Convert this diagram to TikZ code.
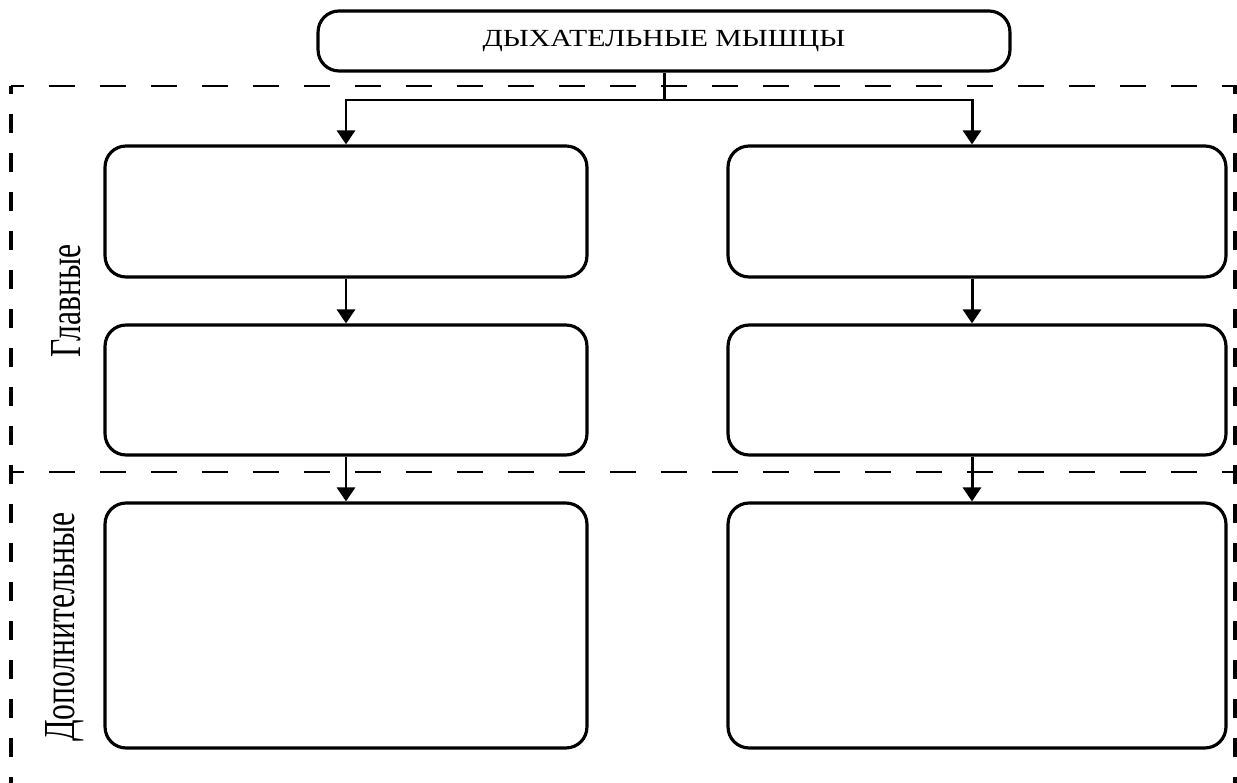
\documentclass[tikz,border=0pt]{standalone}
\usepackage{fontspec}
\setmainfont{Liberation Serif}
\usetikzlibrary{arrows.meta}

\begin{document}
\begin{tikzpicture}[x=0.02cm,y=-0.02cm,line width=1.8pt,
    >={Triangle[length=0.28cm,width=0.36cm]},
    box/.style={draw,rounded corners=0.42cm,inner sep=0pt},
    leftbox/.style={box,minimum width=9.64cm},
    rightbox/.style={box,minimum width=9.96cm},
    arr/.style={->,line width=1.7pt},
    hdash/.style={line width=1.7pt,dash pattern=on 0.52cm off 0.5cm,dash phase=0.26cm},
    vdash/.style={line width=2pt,dash pattern=on 0.39cm off 0.39cm,dash phase=0.22cm},
    side/.style={rotate=90,inner sep=0pt}]
  \useasboundingbox (0,0) rectangle (1237,783);
  % dashed frame split into two zones
  \draw[hdash] (11,86) -- (1237,86);
  \draw[hdash] (11,472) -- (1237,472);
  \draw[vdash] (11,86) -- (11,783);
  \draw[vdash] (1235,86) -- (1235,783);
  \node[box,minimum width=13.84cm,minimum height=1.2cm] (top) at (664,41)
    {\fontsize{14}{16}\selectfont\scalebox{1.21}[1]{ДЫХАТЕЛЬНЫЕ МЫШЦЫ}};
  \node[leftbox,minimum height=2.62cm] (l1) at (346,211.5) {};
  \node[leftbox,minimum height=2.6cm] (l2) at (346,390) {};
  \node[leftbox,minimum height=4.9cm] (l3) at (346,625.5) {};
  \node[rightbox,minimum height=2.62cm] (r1) at (977,211.5) {};
  \node[rightbox,minimum height=2.6cm] (r2) at (977,390) {};
  \node[rightbox,minimum height=4.9cm] (r3) at (977,625.5) {};
  \node[side] (mainlbl) at (66,301) {\fontsize{18}{20}\selectfont\scalebox{1}[1.4]{Главные}};
  \node[side] (extralbl) at (65,627) {\fontsize{18}{20}\selectfont\scalebox{1}[1.4]{Дополнительные}};
  \coordinate (split) at (664,100);
  \draw[line width=1.7pt] (top.south) -- (split);
  \draw[arr] (split) -| (l1.north);
  \draw[arr] (split) -| ([xshift=-0.1cm]r1.north);
  \draw[arr] (l1) -- (l2);
  \draw[arr] (l2) -- (l3);
  \draw[arr] ([xshift=-0.1cm]r1.south) -- ([xshift=-0.1cm]r2.north);
  \draw[arr] ([xshift=-0.1cm]r2.south) -- ([xshift=-0.1cm]r3.north);
\end{tikzpicture}
\end{document}
